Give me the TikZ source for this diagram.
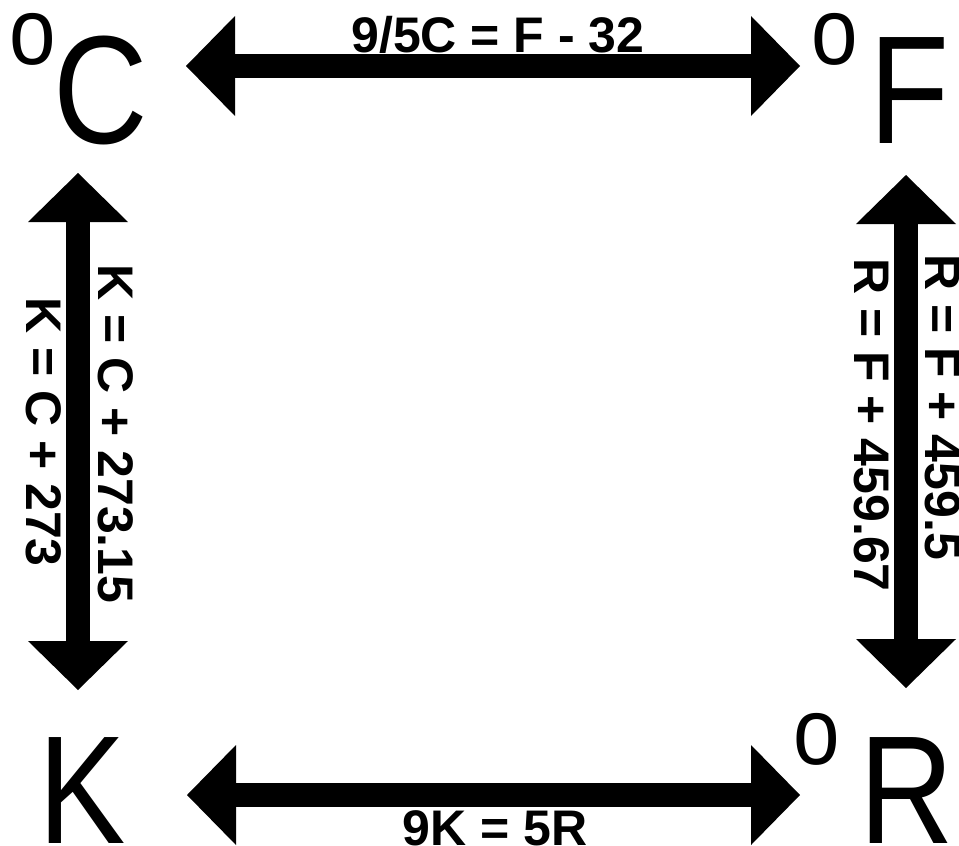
\documentclass[tikz,border=0pt]{standalone}
\usepackage{fontspec}
\setmainfont{Liberation Sans}
\usetikzlibrary{arrows.meta}
\newcommand{\dg}[1]{\raisebox{79pt}{\scalebox{0.88}[1]{\fontsize{95}{95}\selectfont o}}\kern#1}
\newcommand{\ltr}[1]{\scalebox{0.85}[1]{#1}}
\tikzset{
  conv/.style={{Triangle[length=49pt,width=100pt,line width=0pt]}-{Triangle[length=49pt,width=100pt,line width=0pt]}, line width=24pt},
  unit/.style={inner sep=0pt, anchor=base west, font=\fontsize{154}{154}\selectfont},
  eqn/.style={inner sep=0pt, anchor=base, font=\bfseries\fontsize{50}{50}\selectfont},
}
\begin{document}
\begin{tikzpicture}[x=1pt, y=-1pt]
\useasboundingbox (0,0) rectangle (959,846);
% temperature scales
\node[unit] (cel) at (9,143) {\dg{-2pt}\ltr{C}};
\node[unit] (fah) at (811,143) {\dg{12pt}\ltr{F}};
\node[unit] (kel) at (38,843) {\ltr{K}};
\node[unit] (ran) at (793,843) {\dg{20pt}\ltr{R}};
% arrow ends
\coordinate (celE) at (186,66);
\coordinate (fahW) at (800,66);
\coordinate (kelE) at (187,795);
\coordinate (ranW) at (800,795);
\coordinate (celS) at (78,173);
\coordinate (kelN) at (78,690);
\coordinate (fahS) at (906,175);
\coordinate (ranN) at (906,688);
% conversions
\draw[conv] (celE) -- (fahW);
\draw[conv] (kelE) -- (ranW);
\draw[conv] (celS) -- (kelN);
\draw[conv] (fahS) -- (ranN);
% formulas
\node[eqn] (cf) at (498,52) {9/5C = F - 32};
\node[eqn] (kr) at (495,845) {9K = 5R};
\node[eqn, rotate=-90] (ck1) at (98,434) {K = C + 273.15};
\node[eqn, rotate=-90] (ck2) at (26,432) {K = C + 273};
\node[eqn, rotate=-90] (fr1) at (854,425) {R = F + 459.67};
\node[eqn, rotate=-90] (fr2) at (925,407) {R = F + 459.5};
\end{tikzpicture}
\end{document}
